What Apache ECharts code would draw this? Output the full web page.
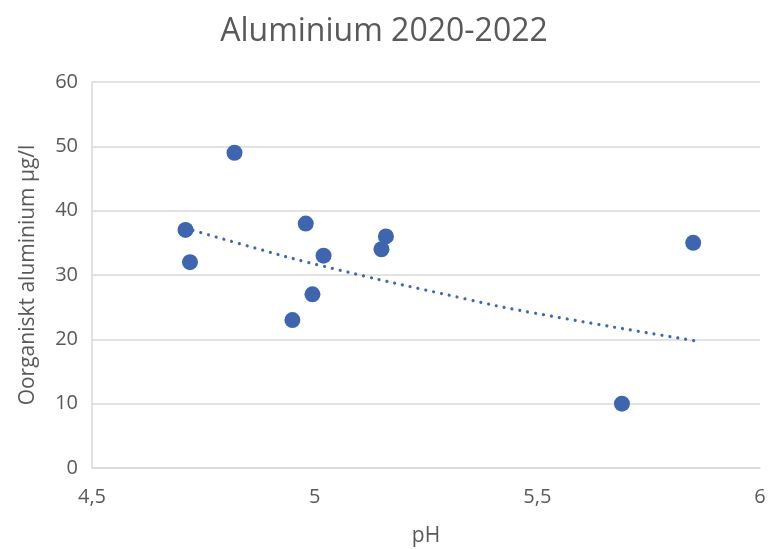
<!DOCTYPE html>
<html>
<head>
<meta charset="utf-8">
<script src="https://cdn.jsdelivr.net/npm/echarts@6/dist/echarts.min.js"></script>
<style>
  html, body { margin: 0; padding: 0; background: #fff; }
  #main { width: 768px; height: 549px; }
</style>
</head>
<body>
<div id="main"></div>
<script>
    'use strict';

    // målepunkter: pH og organisk aluminium
    var phValues = [4.71, 4.72, 4.82, 4.95, 4.98, 4.995, 5.02, 5.15, 5.16, 5.69, 5.85];
    var alValues = [37, 32, 49, 23, 38, 27, 33, 34, 36, 10, 35];

    // trendlinje
    var trendX = [4.71, 4.835, 5.012, 5.338, 5.484, 5.852];
    var trendY = [37.3, 34.8, 31.5, 26.3, 24.2, 19.8];

    var xTicks = { min: 4.5, max: 6, interval: 0.5 };
    var yTicks = { min: 0, max: 60, interval: 10 };

    var textColor = '#595959';
    var gridColor = '#d9d9d9';
    var fontName = '"Open Sans", "Noto Sans", sans-serif';

    var points = phValues.map(function (v, i) { return [v, alValues[i]]; });
    var trend = trendX.map(function (v, i) { return [v, trendY[i]]; });

    var chart = echarts.init(document.getElementById('main'));

    chart.setOption({
        animation: false,
        title: {
            text: 'Aluminium 2020-2022',
            left: 'center',
            top: 11,
            textStyle: { color: textColor, fontSize: 32, fontWeight: 'normal', fontFamily: fontName }
        },
        grid: { left: 92, right: 8, top: 82, bottom: 81, outerBoundsMode: 'none' },
        xAxis: {
            type: 'value',
            min: xTicks.min,
            max: xTicks.max,
            interval: xTicks.interval,
            name: 'pH',
            nameLocation: 'middle',
            nameGap: 58,
            nameTextStyle: { color: textColor, fontSize: 21, fontFamily: fontName },
            axisLine: { show: true, lineStyle: { color: gridColor, width: 1.5 } },
            axisTick: { show: false },
            splitLine: { show: false },
            axisLabel: {
                color: textColor, fontSize: 20, fontFamily: fontName, margin: 19,
                formatter: function (v) { return String(v).replace('.', ','); }
            }
        },
        yAxis: {
            type: 'value',
            min: yTicks.min,
            max: yTicks.max,
            interval: yTicks.interval,
            name: 'Oorganiskt aluminium µg/l',
            nameLocation: 'middle',
            nameGap: 53,
            nameTextStyle: { color: textColor, fontSize: 21, fontFamily: fontName },
            axisLine: { show: true, lineStyle: { color: gridColor, width: 1.5 } },
            axisTick: { show: false },
            splitLine: { show: true, lineStyle: { color: gridColor, width: 1.5 } },
            axisLabel: { color: textColor, fontSize: 20, fontFamily: fontName, margin: 14 }
        },
        series: [
            {
                type: 'line',
                data: trend,
                smooth: true,
                showSymbol: false,
                silent: true,
                lineStyle: { color: '#4068b2', width: 3.2, type: [0.01, 8], cap: 'round' },
                z: 1
            },
            {
                type: 'scatter',
                data: points,
                symbolSize: 16,
                itemStyle: { color: '#3e66b0', opacity: 1 },
                z: 2
            }
        ]
    });
</script>
</body>
</html>
